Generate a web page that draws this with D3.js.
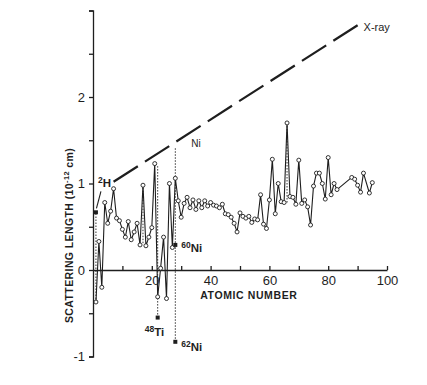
<!DOCTYPE html>
<html><head><meta charset="utf-8">
<script src="https://cdn.jsdelivr.net/npm/d3@7"></script>
<style>
body{margin:0;background:#fff}
svg{display:block}
text{font-family:"Liberation Sans",Arial,Helvetica,sans-serif;fill:#1e1e1e}
</style>
</head><body>
<svg id="c" width="427" height="385"></svg>
<script>
// Atomic numbers and coherent neutron scattering lengths (10^-12 cm)
const atomicNumbers = [1,2,3,4,5,6,7,8,9,10,11,12,13,14,15,16,17,18,19,20,
  21,22,23,24,25,26,27,28,29,30,31,32,33,34,35,36,37,38,39,40,
  41,42,43,44,45,46,47,48,49,50,51,52,53,54,55,56,57,58,59,60,
  61,62,63,64,65,66,67,68,69,70,71,72,73,74,75,76,77,78,79,80,
  81,82,83,88,89,90,91,92,94,95];
const scatteringLengths = [-0.37,0.33,-0.20,0.78,0.54,0.68,0.94,0.60,0.57,0.47,0.38,0.56,0.35,0.44,0.54,0.29,0.98,0.28,0.38,0.49,
  1.23,-0.31,0.02,0.38,-0.33,1.00,0.26,1.06,0.80,0.61,0.77,0.84,0.72,0.81,0.70,0.80,0.72,0.80,0.74,0.78,
  0.75,0.74,0.72,0.76,0.65,0.64,0.61,0.54,0.44,0.66,0.62,0.60,0.62,0.55,0.59,0.58,0.87,0.53,0.48,0.81,
  1.28,0.65,1.00,0.79,0.78,1.70,0.85,0.84,0.76,1.27,0.77,0.81,0.73,0.52,0.97,1.12,1.12,1.00,0.82,1.30,
  0.87,1.00,0.93,1.07,1.05,0.98,0.90,1.12,0.89,1.01];

// Isotopes (filled markers)
const isotopeZ = [1,22,28,28];
const isotopeB = [0.667,-0.55,0.29,-0.83];
const isotopeMass = ["2","48","60","62"];
const isotopeSymbol = ["H","Ti","Ni","Ni"];

// Isotope spread shown as dotted verticals
const spreadZ = [1,17,22,28,66];
const spreadLow = [-0.37,0.31,-0.55,-0.83,0.78];
const spreadHigh = [0.667,0.98,1.20,1.42,1.70];

// X-ray scattering line (schematic)
const xrayZ = [7,90];
const xrayB = [1.02,2.83];

// Axis ticks
const yTickValues = [-1,-0.5,0,0.5,1,1.5,2,2.5,3];
const yTickLabels = {"-1":"-1","0":"0","1":"1","2":"2"};
const xTickValues = [10,20,30,40,50,60,70,80,90,100];
const xTickLabels = {20:"20",40:"40",60:"60",80:"80",100:"100"};

const svg = d3.select("#c");
const ink = "#1e1e1e";
const x = d3.scaleLinear().domain([0,100]).range([93,387]);
const y = d3.scaleLinear().domain([-1,3]).range([356.5,10.5]);

// Y axis
const ya = svg.append("g").attr("transform",`translate(${x(0)},0)`)
  .call(d3.axisLeft(y).tickValues(yTickValues).tickSizeInner(4).tickSizeOuter(4).tickPadding(4)
    .tickFormat(d => yTickLabels[String(d)] || ""));
ya.selectAll("path,line").attr("stroke",ink).attr("stroke-width",1.3);
ya.selectAll("text").attr("font-size",13).attr("fill",ink).attr("font-family","Liberation Sans, Arial, sans-serif");

// X axis
const xa = svg.append("g").attr("transform",`translate(0,${y(0)})`)
  .call(d3.axisBottom(x).tickValues(xTickValues).tickSizeInner(-4).tickSizeOuter(0).tickPadding(6)
    .tickFormat(d => xTickLabels[d] || ""));
xa.selectAll("path,line").attr("stroke",ink).attr("stroke-width",1.3);
xa.selectAll("text").attr("font-size",13).attr("fill",ink).attr("font-family","Liberation Sans, Arial, sans-serif");

// Axis titles
svg.append("text").attr("x",(x(36)+x(70))/2).attr("y",y(0)+29)
  .attr("text-anchor","middle").attr("font-size",10.5).attr("font-weight","bold")
  .attr("letter-spacing",0.6).text("ATOMIC NUMBER");
const yt = svg.append("text").attr("transform",`translate(73,${y(0.4)}) rotate(-90)`)
  .attr("text-anchor","middle").attr("font-size",10.5).attr("font-weight","bold").attr("letter-spacing",0.4);
yt.append("tspan").text("SCATTERING LENGTH (10");
yt.append("tspan").attr("dy",-4).attr("font-size",7.5).text("-12");
yt.append("tspan").attr("dy",4).text(" cm)");

// X-ray dashed line: dash pattern sized so the last dash ends at the line's end
const xrayPts = xrayZ.map((z,i)=>[z,xrayB[i]]);
const xrayPath = svg.append("path").datum(xrayPts)
  .attr("d", d3.line().x(d=>x(d[0])).y(d=>y(d[1])))
  .attr("fill","none").attr("stroke",ink).attr("stroke-width",2.2);
const L = xrayPath.node().getTotalLength();
const gap = 8.5, nDash = 8;
const dash = (L + gap) / nDash - gap;
xrayPath.attr("stroke-dasharray", `${dash},${gap}`);
svg.append("text").attr("x",x(xrayZ[1])+6).attr("y",y(xrayB[1])+6)
  .attr("font-size",11).text("X-ray");
svg.append("text").attr("x",x(28)+16).attr("y",y(xrayB[0]+(xrayB[1]-xrayB[0])*(28-xrayZ[0])/(xrayZ[1]-xrayZ[0]))+5)
  .attr("font-size",10).text("Ni");

// Dotted isotope spreads
spreadZ.forEach((z,i)=>{
  svg.append("line").attr("x1",x(z)).attr("x2",x(z)).attr("y1",y(spreadLow[i])).attr("y2",y(spreadHigh[i]))
    .attr("stroke",ink).attr("stroke-width",0.9).attr("stroke-dasharray","1.5,1.5");
});

// Main series
const pts = atomicNumbers.map((z,i)=>[z,scatteringLengths[i]]);
svg.append("path").datum(pts)
  .attr("d", d3.line().x(d=>x(d[0])).y(d=>y(d[1])))
  .attr("fill","none").attr("stroke",ink).attr("stroke-width",1.1).attr("stroke-linejoin","round");
svg.append("g").selectAll("circle").data(pts).join("circle")
  .attr("cx",d=>x(d[0])).attr("cy",d=>y(d[1])).attr("r",2)
  .attr("fill","#fff").attr("stroke",ink).attr("stroke-width",0.9);

// Isotope markers
const iso = isotopeZ.map((z,i)=>[z,isotopeB[i]]);
svg.append("g").selectAll("rect").data(iso).join("rect")
  .attr("x",d=>x(d[0])-2).attr("y",d=>y(d[1])-2).attr("width",4).attr("height",4)
  .attr("fill",ink);

// Isotope labels
function isoLabel(i, dx, dy, anchor){
  const t = svg.append("text").attr("x",x(isotopeZ[i])+dx).attr("y",y(isotopeB[i])+dy)
    .attr("font-size",11.5).attr("font-weight","bold").attr("text-anchor",anchor||"start");
  t.append("tspan").attr("font-size",8.5).attr("dy",-4).text(isotopeMass[i]);
  t.append("tspan").attr("dy",4).text(isotopeSymbol[i]);
}
isoLabel(0, 2, -25);
isoLabel(1, -13, 18);
isoLabel(2, 6, 7);
isoLabel(3, 6, 9);
// pointer from 2H label to its point
svg.append("line").attr("x1",x(isotopeZ[0])+5).attr("y1",y(isotopeB[0])-21)
  .attr("x2",x(isotopeZ[0])+0.5).attr("y2",y(isotopeB[0])-4)
  .attr("stroke",ink).attr("stroke-width",1.1);
</script>
</body></html>
